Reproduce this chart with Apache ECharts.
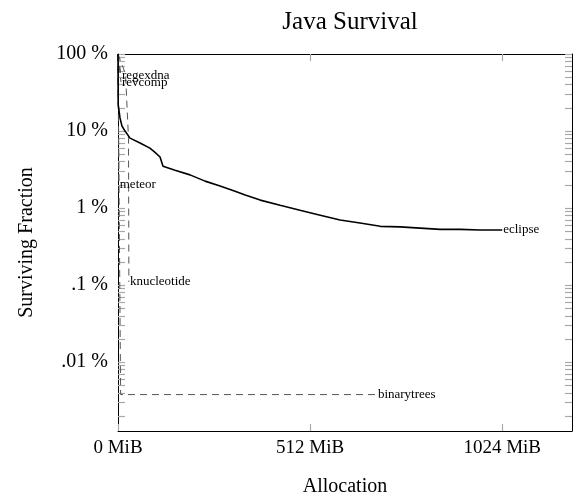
<!DOCTYPE html>
<html>
<head>
<meta charset="utf-8">
<title>Java Survival</title>
<script src="https://cdn.jsdelivr.net/npm/echarts@6/dist/echarts.min.js"></script>
<style>
  html, body { margin: 0; padding: 0; background: #fff; }
  #chart { width: 577px; height: 495px; }
</style>
</head>
<body>
<div id="chart"></div>
<script>
// Allocation (MiB) vs. surviving fraction (%) per benchmark
const eclipseAlloc = [0, 0.5, 5.3, 10.7, 18.7, 32, 58.7, 85, 98.7, 112, 120, 152, 192, 232, 272, 312, 339, 379, 432, 485, 539, 592, 645, 699, 752, 805, 859, 912, 965, 1024];
const eclipseSurv  = [100, 22, 14.8, 11.6, 10, 8.1, 7.0, 6.0, 5.3, 4.6, 3.5, 3.1, 2.7, 2.24, 1.93, 1.66, 1.48, 1.27, 1.09, 0.94, 0.81, 0.70, 0.64, 0.58, 0.57, 0.55, 0.53, 0.53, 0.52, 0.52];

const regexdnaAlloc = [0, 4, 8];
const regexdnaSurv  = [100, 75, 52];

const revcompAlloc = [0, 3, 8];
const revcompSurv  = [100, 70, 43];

const meteorAlloc = [0, 1, 2];
const meteorSurv  = [100, 20, 2.0];

const knucleotideAlloc = [0, 20, 28, 29];
const knucleotideSurv  = [100, 55, 8, 0.11];

const binarytreesAlloc = [0, 7, 690];
const binarytreesSurv  = [100, 0.0038, 0.0038];

// Axis ticks
const xTicks = [0, 512, 1024];
const yDecades = [0.01, 0.1, 1, 10, 100];
const yMin = 0.00128, yMax = 100, xMax = 1210;

// minor ticks 2..9 within each decade, plus the decades
const yTickValues = [];
[0.001, 0.01, 0.1, 1, 10].forEach(d => {
  for (let k = 1; k <= 9; k++) {
    const v = +(d * k).toPrecision(6);
    if (v >= yMin && v <= yMax) yTickValues.push(v);
  }
});
yTickValues.push(100);

const pair = (xs, ys) => xs.map((x, i) => [x, ys[i]]);

function pctLabel(v) {
  const e = Math.round(Math.log10(v));
  const num = e >= 0 ? String(Math.pow(10, e)) : '.' + '0'.repeat(-e - 1) + '1';
  return num + ' %';
}

const serif = '"Liberation Serif", "DejaVu Serif", serif';
const tickStyle = { color: '#a8a8a8', width: 1.2 };
const labelFont = { fontFamily: serif, fontSize: 13, color: '#000', distance: 1 };

function dashed(name, xs, ys) {
  return {
    name, type: 'line', data: pair(xs, ys), showSymbol: false, symbol: 'none',
    lineStyle: { color: '#555', width: 1, type: [7, 5] },
    endLabel: Object.assign({ show: true, formatter: name }, labelFont),
    z: 3
  };
}

const chart = echarts.init(document.getElementById('chart'), null, { renderer: 'canvas' });
chart.setOption({
  animation: false,
  backgroundColor: '#fff',
  title: {
    text: 'Java Survival', left: 345, top: 5, textAlign: 'center',
    textStyle: { fontFamily: serif, fontSize: 25, fontWeight: 'normal', color: '#000' }
  },
  grid: { left: 118, right: 5, top: 54, bottom: 64, containLabel: false, outerBoundsMode: 'none' },
  xAxis: [{
    type: 'value', min: 0, max: xMax, position: 'bottom',
    name: 'Allocation', nameLocation: 'middle', nameGap: 46,
    nameTextStyle: { fontFamily: serif, fontSize: 20, color: '#000' },
    axisLine: { show: true, onZero: false, lineStyle: { color: '#000', width: 1 } },
    axisTick: { show: true, inside: true, length: 7, lineStyle: tickStyle, customValues: xTicks },
    axisLabel: { customValues: xTicks, formatter: v => v + ' MiB', fontFamily: serif, fontSize: 19, color: '#000', margin: 8 },
    splitLine: { show: false }
  }, {
    type: 'value', min: 0, max: xMax, position: 'top',
    axisLine: { show: true, onZero: false, lineStyle: { color: '#000', width: 1 } },
    axisTick: { show: true, inside: true, length: 7, lineStyle: tickStyle, customValues: xTicks },
    axisLabel: { show: false },
    splitLine: { show: false }
  }],
  yAxis: [{
    type: 'log', logBase: 10, min: yMin, max: yMax, position: 'left',
    name: 'Surviving Fraction', nameLocation: 'middle', nameGap: 81,
    nameTextStyle: { fontFamily: serif, fontSize: 20, color: '#000' },
    axisLine: { show: true, onZero: false, lineStyle: { color: '#000', width: 1 } },
    axisTick: { show: true, inside: true, length: 7, lineStyle: tickStyle, customValues: yTickValues },
    axisLabel: { customValues: yDecades, formatter: pctLabel, fontFamily: serif, fontSize: 20, color: '#000', margin: 10 },
    splitLine: { show: false }
  }, {
    type: 'log', logBase: 10, min: yMin, max: yMax, position: 'right',
    axisLine: { show: true, onZero: false, lineStyle: { color: '#000', width: 1 } },
    axisTick: { show: true, inside: true, length: 7, lineStyle: tickStyle, customValues: yTickValues },
    axisLabel: { show: false },
    splitLine: { show: false }
  }],
  series: [
    {
      name: 'eclipse', type: 'line', data: pair(eclipseAlloc, eclipseSurv), showSymbol: false, symbol: 'none',
      lineStyle: { color: '#000', width: 1.6 },
      endLabel: Object.assign({ show: true, formatter: 'eclipse' }, labelFont),
      z: 4
    },
    dashed('regexdna', regexdnaAlloc, regexdnaSurv),
    dashed('revcomp', revcompAlloc, revcompSurv),
    dashed('meteor', meteorAlloc, meteorSurv),
    dashed('knucleotide', knucleotideAlloc, knucleotideSurv),
    dashed('binarytrees', binarytreesAlloc, binarytreesSurv)
  ]
});
</script>
</body>
</html>
